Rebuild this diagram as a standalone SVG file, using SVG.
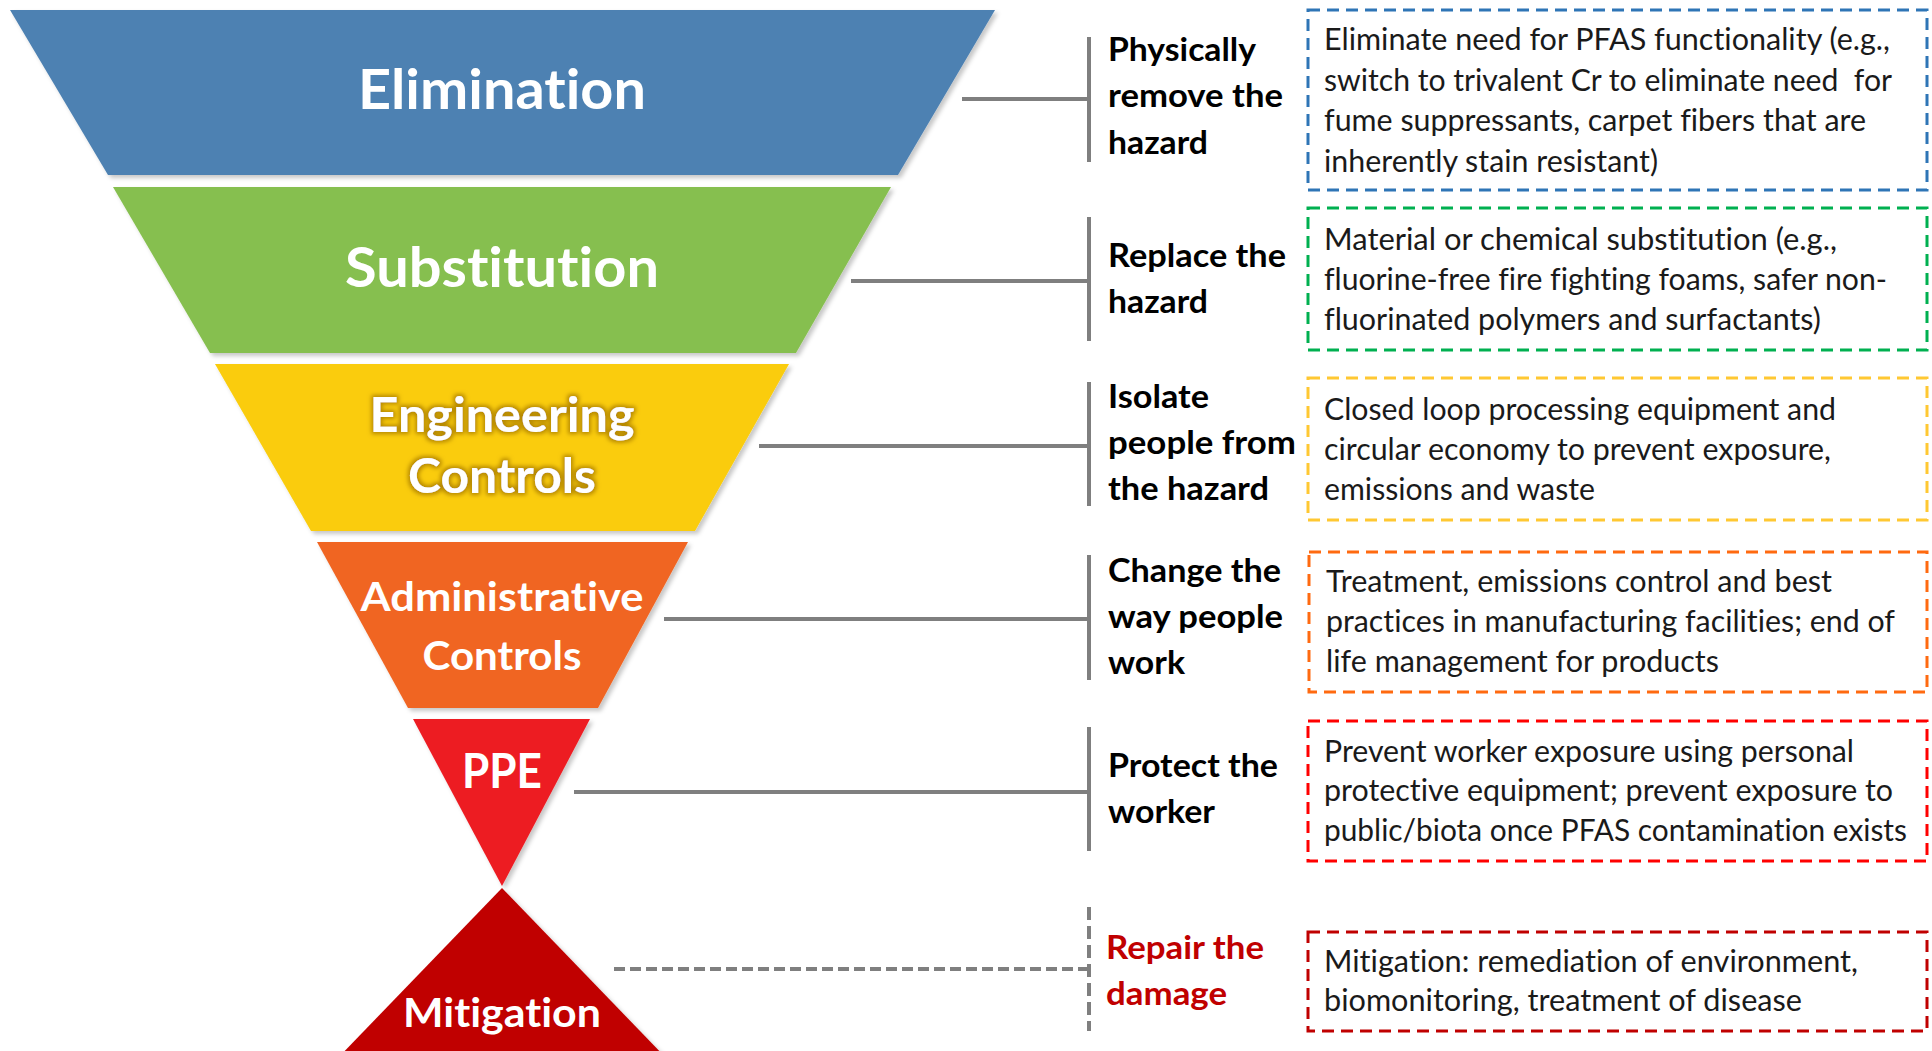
<svg xmlns="http://www.w3.org/2000/svg" width="1932" height="1051" viewBox="0 0 1932 1051">
<defs>
<filter id="shadow" x="-5%" y="-5%" width="112%" height="115%">
<feDropShadow dx="3" dy="3" stdDeviation="2" flood-color="#000" flood-opacity="0.22"/>
</filter>
<filter id="glow" x="-10%" y="-30%" width="120%" height="160%">
<feMorphology in="SourceAlpha" operator="dilate" radius="1.5" result="d"/>
<feGaussianBlur in="d" stdDeviation="2.2" result="b"/>
<feFlood flood-color="#B38600" flood-opacity="0.95"/>
<feComposite in2="b" operator="in" result="g"/>
<feMerge><feMergeNode in="g"/><feMergeNode in="SourceGraphic"/></feMerge>
</filter>
</defs>
<style>
text{font-variant-ligatures:none;font-feature-settings:"liga" 0,"dlig" 0,"clig" 0;}
.band{filter:url(#shadow);}
.bt{font-family:Lato,"Open Sans",sans-serif;font-weight:bold;fill:#fff;text-anchor:middle;}
.lbl{font-family:Lato,"Open Sans",sans-serif;font-weight:bold;font-size:33px;fill:#000;}
.red{fill:#C00000;}
.tx{font-family:Lato,"Open Sans",sans-serif;font-size:30px;fill:#1a1a1a;}
.box{fill:none;stroke-width:3;stroke-dasharray:12 7;}
.ln{stroke:#7F7F7F;stroke-width:4;fill:none;}
.dl{stroke:#7F7F7F;stroke-width:4;fill:none;stroke-dasharray:11 5;}
.dv{stroke:#7F7F7F;stroke-width:4;fill:none;stroke-dasharray:13 6;}
</style>
<rect width="1932" height="1051" fill="#fff"/>

<g id="connectors">
<line class="ln" x1="962" y1="99" x2="1089" y2="99"/>
<line class="ln" x1="1089" y1="37" x2="1089" y2="162"/>
<line class="ln" x1="851" y1="281" x2="1089" y2="281"/>
<line class="ln" x1="1089" y1="217" x2="1089" y2="341"/>
<line class="ln" x1="759" y1="446" x2="1089" y2="446"/>
<line class="ln" x1="1089" y1="382" x2="1089" y2="506"/>
<line class="ln" x1="664" y1="619" x2="1089" y2="619"/>
<line class="ln" x1="1089" y1="555" x2="1089" y2="680"/>
<line class="ln" x1="574" y1="792" x2="1089" y2="792"/>
<line class="ln" x1="1089" y1="727" x2="1089" y2="851"/>
<line class="dl" x1="614" y1="969" x2="1089" y2="969"/>
<line class="dv" x1="1089" y1="907" x2="1089" y2="1031"/>
</g>

<g id="elimination">
<polygon class="band" points="10,10 995,10 898,175 108,175" fill="#4E81B2"/>
<text class="bt" x="502" y="109" font-size="55" textLength="288" lengthAdjust="spacingAndGlyphs">Elimination</text>
</g>
<g id="substitution">
<polygon class="band" points="113,187 891,187 796,353 210,353" fill="#86BF50"/>
<text class="bt" x="502" y="287" font-size="55" textLength="314" lengthAdjust="spacingAndGlyphs">Substitution</text>
</g>
<g id="engineering">
<polygon class="band" points="215,364 789,364 695,531 311,531" fill="#FACC08"/>
<g filter="url(#glow)">
<text class="bt" x="502" y="432" font-size="47" textLength="265" lengthAdjust="spacingAndGlyphs">Engineering</text>
<text class="bt" x="502" y="493" font-size="47" textLength="188" lengthAdjust="spacingAndGlyphs">Controls</text>
</g>
</g>
<g id="administrative">
<polygon class="band" points="317,542 688,542 598,708 408,708" fill="#F06522"/>
<text class="bt" x="502" y="611" font-size="41" textLength="283" lengthAdjust="spacingAndGlyphs">Administrative</text>
<text class="bt" x="502" y="670" font-size="41" textLength="159" lengthAdjust="spacingAndGlyphs">Controls</text>
</g>
<g id="ppe">
<polygon class="band" points="413,719 590,719 502,886" fill="#ED1C24"/>
<text class="bt" x="502" y="788" font-size="47" textLength="80" lengthAdjust="spacingAndGlyphs">PPE</text>
</g>
<g id="mitigation">
<polygon class="band" points="502,888 668,1060 336,1060" fill="#C00000"/>
<text class="bt" x="502" y="1027" font-size="41" textLength="198" lengthAdjust="spacingAndGlyphs">Mitigation</text>
</g>

<g id="label-elimination">
<text class="lbl" x="1108" y="61" textLength="148" lengthAdjust="spacingAndGlyphs">Physically</text>
<text class="lbl" x="1108" y="107" textLength="175" lengthAdjust="spacingAndGlyphs">remove the</text>
<text class="lbl" x="1108" y="154" textLength="100" lengthAdjust="spacingAndGlyphs">hazard</text>
</g>
<g id="label-substitution">
<text class="lbl" x="1108" y="267" textLength="178" lengthAdjust="spacingAndGlyphs">Replace the</text>
<text class="lbl" x="1108" y="313" textLength="100" lengthAdjust="spacingAndGlyphs">hazard</text>
</g>
<g id="label-engineering">
<text class="lbl" x="1108" y="408" textLength="101" lengthAdjust="spacingAndGlyphs">Isolate</text>
<text class="lbl" x="1108" y="454" textLength="188" lengthAdjust="spacingAndGlyphs">people from</text>
<text class="lbl" x="1108" y="500" textLength="161" lengthAdjust="spacingAndGlyphs">the hazard</text>
</g>
<g id="label-administrative">
<text class="lbl" x="1108" y="582" textLength="173" lengthAdjust="spacingAndGlyphs">Change the</text>
<text class="lbl" x="1108" y="628" textLength="175" lengthAdjust="spacingAndGlyphs">way people</text>
<text class="lbl" x="1108" y="674" textLength="77" lengthAdjust="spacingAndGlyphs">work</text>
</g>
<g id="label-ppe">
<text class="lbl" x="1108" y="777" textLength="170" lengthAdjust="spacingAndGlyphs">Protect the</text>
<text class="lbl" x="1108" y="823" textLength="107" lengthAdjust="spacingAndGlyphs">worker</text>
</g>
<g id="label-mitigation">
<text class="lbl red" x="1106" y="959" textLength="158" lengthAdjust="spacingAndGlyphs">Repair the</text>
<text class="lbl red" x="1106" y="1005" textLength="121" lengthAdjust="spacingAndGlyphs">damage</text>
</g>

<g id="box-elimination">
<rect class="box" x="1308" y="10" width="619" height="180" stroke="#2E75B6"/>
<text class="tx" x="1324" y="50" textLength="566" lengthAdjust="spacingAndGlyphs">Eliminate need for PFAS functionality (e.g.,</text>
<text class="tx" x="1324" y="91" textLength="568" lengthAdjust="spacingAndGlyphs" xml:space="preserve">switch to trivalent Cr to eliminate need  for</text>
<text class="tx" x="1324" y="131" textLength="542" lengthAdjust="spacingAndGlyphs">fume suppressants, carpet fibers that are</text>
<text class="tx" x="1324" y="172" textLength="334" lengthAdjust="spacingAndGlyphs">inherently stain resistant)</text>
</g>
<g id="box-substitution">
<rect class="box" x="1308" y="208" width="619" height="142" stroke="#00B050"/>
<text class="tx" x="1324" y="250" textLength="513" lengthAdjust="spacingAndGlyphs">Material or chemical substitution (e.g.,</text>
<text class="tx" x="1324" y="290" textLength="563" lengthAdjust="spacingAndGlyphs">fluorine-free fire fighting foams, safer non-</text>
<text class="tx" x="1324" y="330" textLength="497" lengthAdjust="spacingAndGlyphs">fluorinated polymers and surfactants)</text>
</g>
<g id="box-engineering">
<rect class="box" x="1308" y="378" width="619" height="142" stroke="#FFC832"/>
<text class="tx" x="1324" y="420" textLength="512" lengthAdjust="spacingAndGlyphs">Closed loop processing equipment and</text>
<text class="tx" x="1324" y="460" textLength="507" lengthAdjust="spacingAndGlyphs">circular economy to prevent exposure,</text>
<text class="tx" x="1324" y="500" textLength="271" lengthAdjust="spacingAndGlyphs">emissions and waste</text>
</g>
<g id="box-administrative">
<rect class="box" x="1309" y="552" width="618" height="140" stroke="#FF6A10"/>
<text class="tx" x="1326" y="592" textLength="506" lengthAdjust="spacingAndGlyphs">Treatment, emissions control and best</text>
<text class="tx" x="1326" y="632" textLength="569" lengthAdjust="spacingAndGlyphs">practices in manufacturing facilities; end of</text>
<text class="tx" x="1326" y="672" textLength="393" lengthAdjust="spacingAndGlyphs">life management for products</text>
</g>
<g id="box-ppe">
<rect class="box" x="1308" y="721" width="619" height="140" stroke="#FF0000"/>
<text class="tx" x="1324" y="762" textLength="530" lengthAdjust="spacingAndGlyphs">Prevent worker exposure using personal</text>
<text class="tx" x="1324" y="801" textLength="569" lengthAdjust="spacingAndGlyphs">protective equipment; prevent exposure to</text>
<text class="tx" x="1324" y="841" textLength="583" lengthAdjust="spacingAndGlyphs">public/biota once PFAS contamination exists</text>
</g>
<g id="box-mitigation">
<rect class="box" x="1308" y="932" width="619" height="99" stroke="#C00000"/>
<text class="tx" x="1324" y="972" textLength="534" lengthAdjust="spacingAndGlyphs">Mitigation: remediation of environment,</text>
<text class="tx" x="1324" y="1011" textLength="478" lengthAdjust="spacingAndGlyphs">biomonitoring, treatment of disease</text>
</g>
</svg>
